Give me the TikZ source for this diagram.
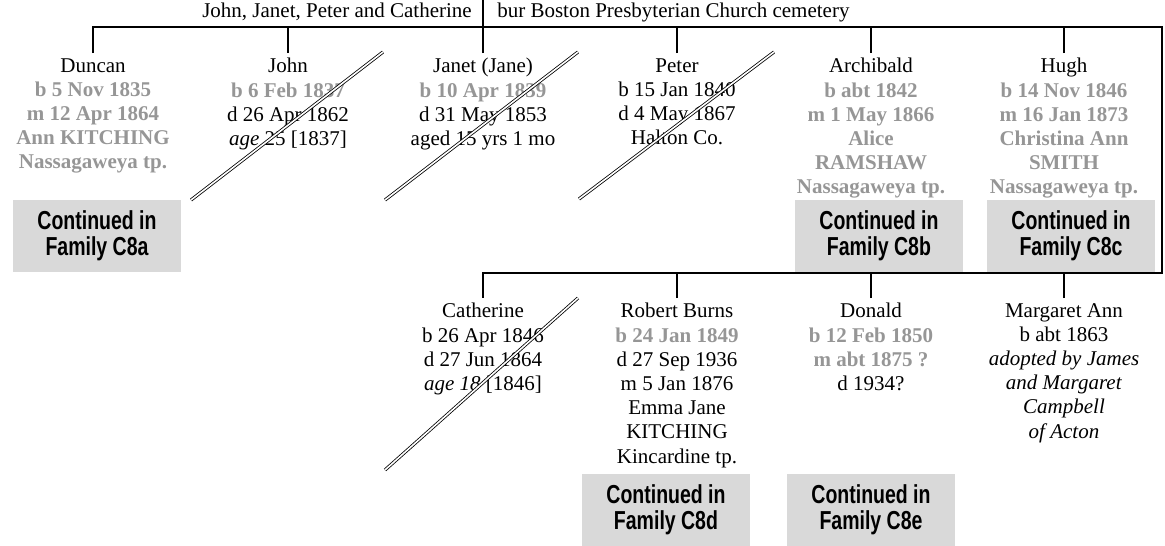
\documentclass[tikz,border=0pt]{standalone}
\usepackage{fontspec}
\setmainfont{Liberation Serif}
\newfontfamily\boxfont[FakeStretch=0.75]{Liberation Sans}
\definecolor{famgray}{RGB}{150,150,150}
\definecolor{boxgray}{RGB}{217,217,217}
\usetikzlibrary{positioning}
\newcommand{\gb}[1]{\textcolor{famgray}{\textbf{#1}}}

\begin{document}
\begin{tikzpicture}[x=0.75pt, y=-0.75pt,
  person/.style={anchor=north, align=center, inner xsep=0pt, inner ysep=3.75pt,
                 font=\fontsize{15.75}{18.15}\selectfont},
  contbox/.style={fill=boxgray, minimum width=126pt, minimum height=54pt, inner sep=0pt,
                  align=center, font=\boxfont\bfseries\fontsize{19.5}{19.5}\selectfont},
  famline/.style={line width=1.5pt},
  strike/.style={double, line width=0.6pt, double distance=1.2pt}]

\useasboundingbox (0,0) rectangle (1165,546);

% Note above the family
\node[anchor=base east, inner sep=0pt, font=\fontsize{15.75}{18.15}\selectfont]
  (notel) at (472,17) {John, Janet, Peter and Catherine};
\node[anchor=base west, inner sep=0pt, font=\fontsize{15.75}{18.15}\selectfont]
  (noter) at (497,17) {bur Boston Presbyterian Church cemetery};

% First row of children
\node[person] (duncan) at (93,53) {Duncan\\ \gb{b 5 Nov 1835}\\ \gb{m 12 Apr 1864}\\
  \gb{Ann KITCHING}\\ \gb{Nassagaweya tp.}};
\node[person] (john) at (288,53) {John\\ \gb{b 6 Feb 1837}\\ d 26 Apr 1862\\
  \textit{age} 25 [1837]};
\node[person] (janet) at (483,53) {Janet (Jane)\\ \gb{b 10 Apr 1839}\\ d 31 May 1853\\
  aged 15 yrs 1 mo};
\node[person] (peter) at (677,53) {Peter\\ b 15 Jan 1840\\ d 4 May 1867\\ Halton Co.};
\node[person] (archibald) at (871,53) {Archibald\\ \gb{b abt 1842}\\ \gb{m 1 May 1866}\\
  \gb{Alice}\\ \gb{RAMSHAW}\\ \gb{Nassagaweya tp.}};
\node[person] (hugh) at (1064,53) {Hugh\\ \gb{b 14 Nov 1846}\\ \gb{m 16 Jan 1873}\\
  \gb{Christina Ann}\\ \gb{SMITH}\\ \gb{Nassagaweya tp.}};

% Second row of children
\node[person] (catherine) at (483,298) {Catherine\\ b 26 Apr 1846\\ d 27 Jun 1864\\
  \textit{age 18} [1846]};
\node[person] (robert) at (677,298) {Robert Burns\\ \gb{b 24 Jan 1849}\\ d 27 Sep 1936\\
  m 5 Jan 1876\\ Emma Jane\\ KITCHING\\ Kincardine tp.};
\node[person] (donald) at (871,298) {Donald\\ \gb{b 12 Feb 1850}\\ \gb{m abt 1875 ?}\\ d 1934?};
\node[person] (margaret) at (1064,298) {Margaret Ann\\ b abt 1863\\ \textit{adopted by James}\\
  \textit{and Margaret}\\ \textit{Campbell}\\ \textit{of Acton}};

% Continued boxes
\node[contbox] (c8a) at (97,236) {Continued in\\ Family C8a};
\node[contbox] (c8b) at (879,236) {Continued in\\ Family C8b};
\node[contbox] (c8c) at (1071,236) {Continued in\\ Family C8c};
\node[contbox] (c8d) at (666,510) {Continued in\\ Family C8d};
\node[contbox] (c8e) at (871,510) {Continued in\\ Family C8e};

% Family lines
\coordinate (topedge) at (0,0);
\coordinate (bar1) at (0,27);
\coordinate (bar2) at (0,273);
\coordinate (rc1) at (1162,27);
\coordinate (rc2) at (1162,273);
\draw[famline] (duncan.north) -- (duncan.north |- bar1) -- (rc1) -- (rc2)
  -- (catherine.north |- bar2) -- (catherine.north);
\draw[famline] (janet.north) -- (janet.north |- topedge);
\foreach \n in {john,peter,archibald,hugh}
  \draw[famline] (\n.north) -- (\n.north |- bar1);
\foreach \n in {robert,donald,margaret}
  \draw[famline] (\n.north) -- (\n.north |- bar2);

% Died young
\draw[strike] (191,200) -- (383,52);
\draw[strike] (385,200) -- (578,52);
\draw[strike] (579,199) -- (774,52);
\draw[strike] (385,470) -- (578,298);

\end{tikzpicture}
\end{document}
